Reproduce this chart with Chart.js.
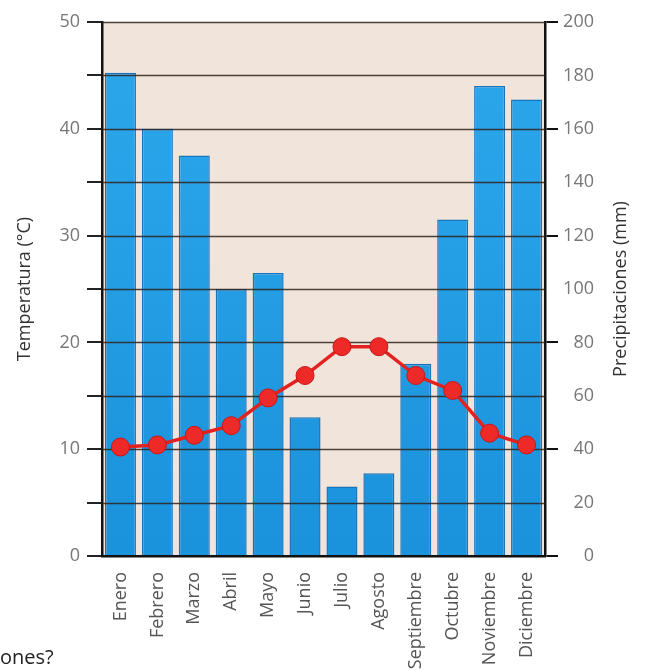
<!DOCTYPE html>
<html>
<head>
<meta charset="utf-8">
<script src="https://cdn.jsdelivr.net/npm/chart.js@4"></script>
<style>
  body { margin: 0; background: #fff; }
  #wrap { position: relative; width: 645px; height: 670px; }
  #note { position: absolute; left: 0px; top: 647px; font: 20px 'Open Sans', sans-serif; line-height: 20px; color: #222; }
</style>
</head>
<body>
<div id="wrap">
  <canvas id="myChart" width="645" height="670"></canvas>
  <div id="note">ones?</div>
</div>
<script>
// climograma data
const meses = ["Enero", "Febrero", "Marzo", "Abril", "Mayo", "Junio", "Julio", "Agosto", "Septiembre", "Octubre", "Noviembre", "Diciembre"];
const temperatura = [10.2, 10.4, 11.3, 12.2, 14.8, 16.9, 19.6, 19.6, 16.9, 15.5, 11.5, 10.4];
const precipitaciones = [181, 160, 150, 100, 106, 52, 26, 31, 72, 126, 176, 171];
const tempTicks = [0, 10, 20, 30, 40, 50];
const precTicks = [0, 20, 40, 60, 80, 100, 120, 140, 160, 180, 200];

Chart.defaults.font.family = "'Open Sans', sans-serif";

// beige plot background
const fondo = {
  id: "fondo",
  beforeDraw(chart) {
    const { ctx, chartArea: a } = chart;
    ctx.save();
    ctx.fillStyle = "#f1e5db";
    ctx.fillRect(a.left, a.top, a.right - a.left, a.bottom - a.top);
    ctx.restore();
  },
  // grid lines over the bars, under the line
  afterDatasetDraw(chart, args) {
    if (args.index !== 1) return;
    const { ctx, chartArea: a } = chart;
    const y = chart.scales.y;
    ctx.save();
    ctx.strokeStyle = "rgba(45,36,32,0.85)";
    ctx.lineWidth = 1.5;
    y.ticks.forEach((t) => {
      if (t.value === 0) return;
      const py = Math.round(y.getPixelForValue(t.value)) + 0.5;
      ctx.beginPath();
      ctx.moveTo(a.left, py);
      ctx.lineTo(a.right, py);
      ctx.stroke();
    });
    ctx.restore();
  },
  // right title reads bottom to top
  afterDraw(chart) {
    const { ctx } = chart;
    const y1 = chart.scales.y1;
    ctx.save();
    ctx.translate(621, (y1.top + y1.bottom) / 2);
    ctx.rotate(-Math.PI / 2);
    ctx.font = "18px 'Open Sans', sans-serif";
    ctx.fillStyle = "#333";
    ctx.textAlign = "center";
    ctx.textBaseline = "middle";
    ctx.fillText("Precipitaciones (mm)", 0, 0);
    ctx.restore();
  },
};

let mychart = document.getElementById("myChart").getContext("2d");
let climaChart = new Chart(mychart, {
  type: "bar",
  data: {
    labels: meses,
    datasets: [
      {
        type: "line",
        label: "Temperatura",
        data: temperatura,
        yAxisID: "y",
        order: 0,
        borderColor: "#e3211f",
        borderWidth: 3.5,
        pointRadius: 9,
        pointBackgroundColor: "#ee2a28",
        pointBorderColor: "#c71616",
        pointBorderWidth: 1,
        tension: 0,
      },
      {
        type: "bar",
        label: "Precipitaciones",
        data: precipitaciones,
        yAxisID: "y1",
        order: 1,
        backgroundColor: (c) => {
          const { ctx, chartArea } = c.chart;
          if (!chartArea) return "#22a0e5";
          const g = ctx.createLinearGradient(0, chartArea.top, 0, chartArea.bottom);
          g.addColorStop(0, "#2da8ec");
          g.addColorStop(1, "#1a92dc");
          return g;
        },
        borderColor: "#1a74bd",
        borderWidth: 1.5,
        barPercentage: 0.84,
        categoryPercentage: 1,
      },
    ],
  },
  options: {
    responsive: false,
    animation: false,
    layout: { padding: { top: 22, left: 0, right: 51, bottom: 0 } },
    plugins: { legend: { display: false }, tooltip: { enabled: false } },
    scales: {
      x: {
        offset: true,
        grid: { display: false },
        border: { display: true, color: "#111", width: 2.5 },
        ticks: {
          minRotation: 90,
          maxRotation: 90,
          padding: 8,
          color: "#555",
          font: { size: 18 },
        },
        afterFit(s) { s.height = 114; },
      },
      y: {
        position: "left",
        min: 0,
        max: 50,
        ticks: {
          stepSize: 5,
          padding: 7,
          color: "#777",
          font: { size: 18 },
          callback: (v) => (tempTicks.includes(v) ? v : ""),
        },
        grid: { drawOnChartArea: false, tickLength: 15, color: "#222", lineWidth: 2 },
        border: { color: "#111", width: 2.5 },
        title: {
          display: true,
          text: "Temperatura (°C)",
          color: "#333",
          font: { size: 18 },
          padding: { top: 14, bottom: 0 },
        },
        afterFit(s) { s.width = 102; },
      },
      y1: {
        position: "right",
        min: 0,
        max: 200,
        afterBuildTicks(s) { s.ticks = precTicks.map((v) => ({ value: v })); },
        ticks: {
          padding: 3,
          crossAlign: "far",
          color: "#777",
          font: { size: 18 },
        },
        grid: {
          drawOnChartArea: false,
          tickLength: 13,
          lineWidth: 2,
          color: (c) => (c.tick && c.tick.value % 40 === 0 ? "#111" : "rgba(0,0,0,0)"),
        },
        border: { color: "#111", width: 2.5 },
        afterFit(s) { s.width = 49; },
      },
    },
  },
  plugins: [fondo],
});
</script>
</body>
</html>
